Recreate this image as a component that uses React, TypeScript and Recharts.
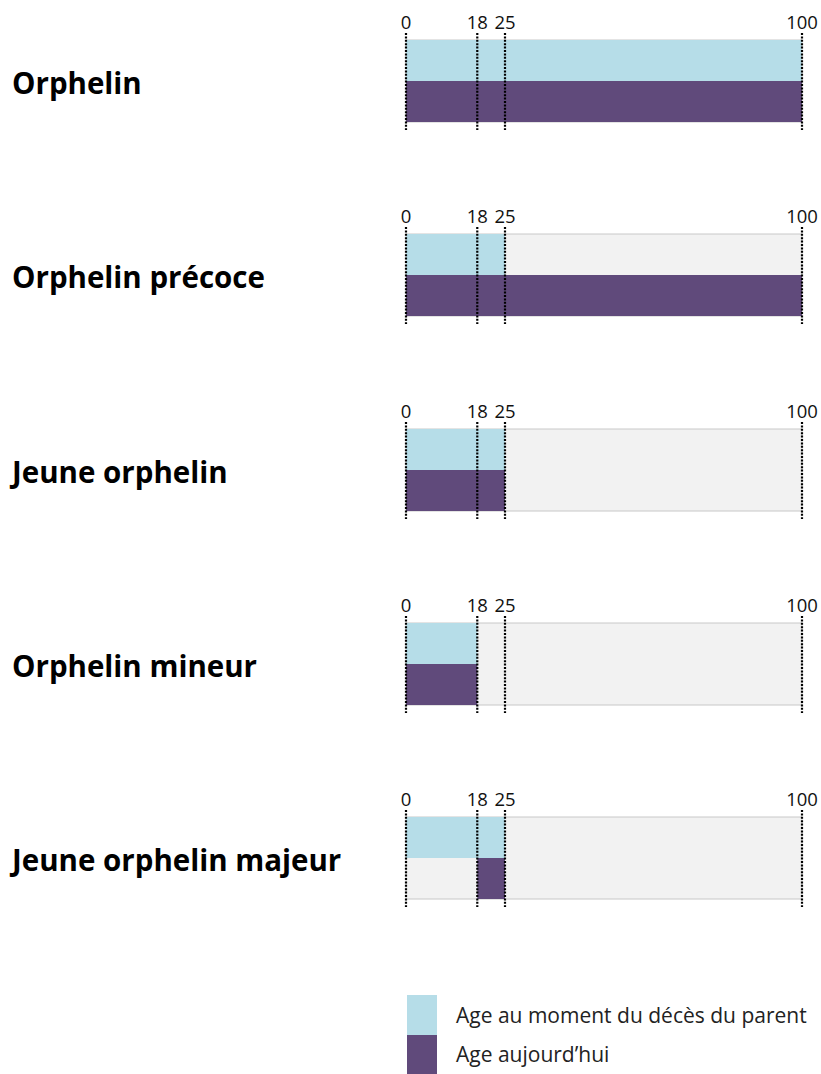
import React from 'react';
import { BarChart, Bar, XAxis, YAxis, Cell, ReferenceLine, ReferenceArea } from 'recharts';

const categories = ['Orphelin', 'Orphelin précoce', 'Jeune orphelin', 'Orphelin mineur', 'Jeune orphelin majeur'];
const deathAgeStart = [0, 0, 0, 0, 0];
const deathAgeEnd = [100, 25, 25, 18, 25];
const todayAgeStart = [0, 0, 0, 0, 18];
const todayAgeEnd = [100, 100, 25, 18, 25];
const tickValues = [0, 18, 25, 100];
const seriesNames = ['Age au moment du décès du parent', 'Age aujourd\u2019hui'];

const BLUE = '#b6dde8';
const PURPLE = '#604a7b';
const FONT = '"Open Sans", sans-serif';

const PANEL_STEP = 194.3;

const DottedLine = (p: any) => {
  const top = Math.min(p.y1, p.y2) - 7;
  const bottom = Math.max(p.y1, p.y2) + 8;
  return <line x1={p.x1} x2={p.x2} y1={top} y2={bottom} stroke="#000" strokeWidth={2.2} strokeDasharray="2 1.4" />;
};

function Panel({ i }: { i: number }) {
  const data = [
    { row: 'deces', range: [deathAgeStart[i], deathAgeEnd[i]] },
    { row: 'auj', range: [todayAgeStart[i], todayAgeEnd[i]] },
  ];
  const colors = [BLUE, PURPLE];
  return (
    <div style={{ position: 'absolute', left: 0, top: i * PANEL_STEP, width: 821, height: 140 }}>
      <div
        style={{
          position: 'absolute',
          left: 12,
          top: 42,
          height: 82,
          lineHeight: '82px',
          fontFamily: FONT,
          fontWeight: 700,
          fontSize: 29.5,
          color: '#000',
          whiteSpace: 'nowrap',
        }}
      >
        {categories[i]}
      </div>
      <BarChart
        width={821}
        height={140}
        data={data}
        layout="vertical"
        margin={{ top: 10, right: 19, bottom: 18, left: 406 }}
        barCategoryGap={0}
        style={{ position: 'absolute', left: 0, top: 0 }}
      >
        <XAxis
          type="number"
          orientation="top"
          domain={[0, 100]}
          ticks={tickValues}
          axisLine={false}
          tickLine={false}
          tickSize={0}
          tickMargin={11}
          height={30}
          interval={0}
          tick={{ fill: '#111', fontSize: 18.5, fontFamily: FONT }}
        />
        <YAxis type="category" dataKey="row" hide width={0} />
        <ReferenceArea x1={0} x2={100} fill="#f2f2f2" fillOpacity={1} stroke="#c8c8c8" strokeWidth={1} ifOverflow="visible" />
        <Bar dataKey="range" isAnimationActive={false}>
          {data.map((d, k) => (
            <Cell key={d.row} fill={colors[k]} />
          ))}
        </Bar>
        {tickValues.map((t) => (
          <ReferenceLine key={t} x={t} shape={DottedLine} ifOverflow="visible" />
        ))}
      </BarChart>
    </div>
  );
}

export default function App() {
  return (
    <div style={{ position: 'absolute', left: 0, top: 0, width: 821, height: 1074, background: '#fff', overflow: 'hidden' }}>
      {categories.map((c, i) => (
        <Panel key={c} i={i} />
      ))}
      {seriesNames.map((n, k) => (
        <div key={n} style={{ position: 'absolute', left: 407, top: 995 + k * 39.5, height: 39.5, display: 'flex', alignItems: 'center' }}>
          <div style={{ width: 30, height: 39.5, background: k === 0 ? BLUE : PURPLE }} />
          <div style={{ marginLeft: 19, fontFamily: FONT, fontSize: 21, color: '#222', whiteSpace: 'nowrap' }}>{n}</div>
        </div>
      ))}
    </div>
  );
}
